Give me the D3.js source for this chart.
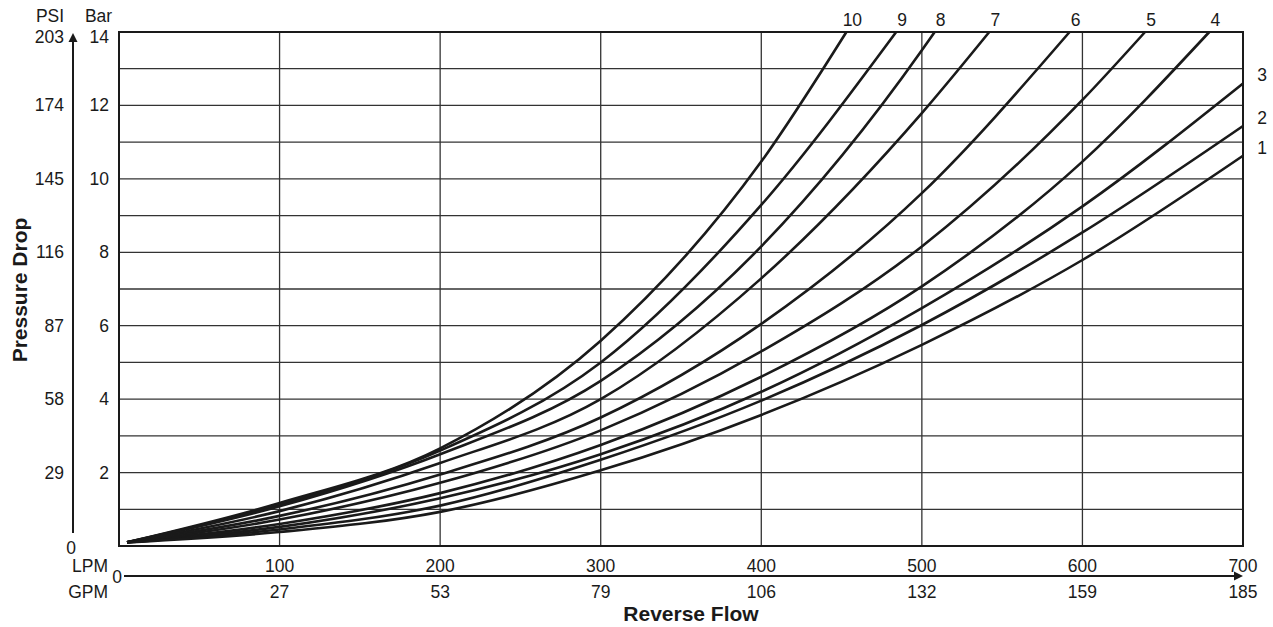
<!DOCTYPE html>
<html><head><meta charset="utf-8">
<script src="https://cdn.jsdelivr.net/npm/d3@7"></script>
<style>
html,body{margin:0;padding:0;background:#fff;}
svg{display:block;font-family:"Liberation Sans",Arial,Helvetica,sans-serif;}
</style></head>
<body>
<svg id="chart" width="1273" height="627"></svg>
<script>
// ---- data ----
const lpmTicks = [100, 200, 300, 400, 500, 600, 700];
const gpmTicks = ["27", "53", "79", "106", "132", "159", "185"];
const barTicks = [2, 4, 6, 8, 10, 12, 14];
const psiTicks = ["29", "58", "87", "116", "145", "174", "203"];
const curveNames = ["10", "9", "8", "7", "6", "5", "4", "3", "2", "1"];
const curve10 = [[5,0.1],[100,1.17],[200,2.66],[300,5.59],[400,10.47],[453,14]];
const curve9  = [[5,0.1],[100,1.12],[200,2.6],[300,5.0],[400,9.29],[484,14]];
const curve8  = [[5,0.1],[100,1.08],[200,2.5],[300,4.5],[400,8.16],[500,13.5],[508,14]];
const curve7  = [[5,0.1],[100,0.95],[200,2.26],[300,4.0],[400,7.29],[500,11.79],[542,14]];
const curve6  = [[5,0.1],[100,0.82],[200,1.95],[300,3.5],[400,6.05],[500,9.61],[592,14]];
const curve5  = [[5,0.1],[100,0.72],[200,1.72],[300,3.15],[400,5.3],[500,8.16],[600,12.15],[639,14]];
const curve4  = [[5,0.1],[100,0.6],[200,1.44],[300,2.75],[400,4.61],[500,7.07],[600,10.47],[679,14]];
const curve3  = [[5,0.1],[100,0.52],[200,1.3],[300,2.5],[400,4.2],[500,6.48],[600,9.25],[700,12.6]];
const curve2  = [[5,0.1],[100,0.45],[200,1.1],[300,2.35],[400,3.96],[500,6.02],[600,8.54],[700,11.44]];
const curve1  = [[5,0.1],[100,0.38],[200,0.93],[300,2.06],[400,3.57],[500,5.48],[600,7.79],[700,10.63]];
const curves = [curve10, curve9, curve8, curve7, curve6, curve5, curve4, curve3, curve2, curve1];

// ---- layout ----
const L = 119, R = 1243, T = 32, B = 546;
const x = d3.scaleLinear().domain([0, 700]).range([L, R]);
const y = d3.scaleLinear().domain([0, 14]).range([B, T]);
const svg = d3.select("#chart");
const ink = "#1a1a1a";
const FS = 17.5;

// grid
const g = svg.append("g");
g.selectAll("line.h").data(d3.range(1, 14)).join("line")
  .attr("x1", L).attr("x2", R).attr("y1", d => y(d)).attr("y2", d => y(d))
  .attr("stroke", "#333").attr("stroke-width", 1.3);
g.selectAll("line.v").data(lpmTicks.slice(0, -1)).join("line")
  .attr("x1", d => x(d)).attr("x2", d => x(d)).attr("y1", T).attr("y2", B)
  .attr("stroke", "#333").attr("stroke-width", 1.3);
g.append("rect").attr("x", L).attr("y", T).attr("width", R - L).attr("height", B - T)
  .attr("fill", "none").attr("stroke", ink).attr("stroke-width", 2);

// curves
const line = d3.line().x(d => x(d[0])).y(d => y(d[1])).curve(d3.curveMonotoneX);
svg.append("g").selectAll("path").data(curves).join("path")
  .attr("d", line).attr("fill", "none").attr("stroke", ink)
  .attr("stroke-width", 2.6).attr("stroke-linejoin", "round");

// curve labels
const lab = svg.append("g").attr("font-size", FS).attr("fill", ink);
curves.forEach((c, i) => {
  const end = c[c.length - 1];
  if (end[1] >= 14) {
    lab.append("text").attr("x", x(end[0]) + 6).attr("y", T - 6)
      .attr("text-anchor", "middle").text(curveNames[i]);
  } else {
    lab.append("text").attr("x", R + 19).attr("y", y(end[1]) - 2)
      .attr("text-anchor", "middle").text(curveNames[i]);
  }
});

// left axis
const la = svg.append("g").attr("font-size", FS).attr("fill", ink);
la.append("text").attr("x", 50).attr("y", 22).attr("text-anchor", "middle").text("PSI");
la.append("text").attr("x", 98.5).attr("y", 22).attr("text-anchor", "middle").text("Bar");
la.selectAll("text.bar").data(barTicks).join("text")
  .attr("x", 109).attr("y", d => d === 14 ? y(d) + 11 : y(d) + 6).attr("text-anchor", "end").text(d => d);
la.selectAll("text.psi").data(psiTicks).join("text")
  .attr("x", 64).attr("y", (d, i) => barTicks[i] === 14 ? y(barTicks[i]) + 11 : y(barTicks[i]) + 6)
  .attr("text-anchor", "end").text(d => d);
la.append("text").attr("x", 71).attr("y", y(0) + 8).attr("text-anchor", "middle").text("0");
svg.append("line").attr("x1", 73).attr("x2", 73).attr("y1", 533).attr("y2", 40)
  .attr("stroke", ink).attr("stroke-width", 2);
svg.append("path").attr("d", "M73,33 L68.5,42 L77.5,42 Z").attr("fill", ink);
svg.append("text").attr("transform", "translate(27,290) rotate(-90)")
  .attr("text-anchor", "middle").attr("font-size", 21).attr("font-weight", "bold")
  .attr("fill", ink).text("Pressure Drop");

// bottom axis
const ba = svg.append("g").attr("font-size", FS).attr("fill", ink);
const axY = 576;
svg.append("line").attr("x1", 124).attr("x2", x(700) - 8).attr("y1", axY).attr("y2", axY)
  .attr("stroke", ink).attr("stroke-width", 2);
svg.append("path").attr("d", `M${x(700)},${axY} L${x(700)-9},${axY-4.5} L${x(700)-9},${axY+4.5} Z`).attr("fill", ink);
ba.append("text").attr("x", 108).attr("y", 572).attr("text-anchor", "end").text("LPM");
ba.append("text").attr("x", 108).attr("y", 598).attr("text-anchor", "end").text("GPM");
ba.append("text").attr("x", 117).attr("y", 583).attr("text-anchor", "middle").text("0");
ba.selectAll("text.lpm").data(lpmTicks).join("text")
  .attr("x", d => x(d)).attr("y", 572).attr("text-anchor", "middle").text(d => d);
ba.selectAll("text.gpm").data(gpmTicks).join("text")
  .attr("x", (d, i) => x(lpmTicks[i])).attr("y", 598).attr("text-anchor", "middle").text(d => d);
svg.append("text").attr("x", 691).attr("y", 621).attr("text-anchor", "middle")
  .attr("font-size", 21).attr("font-weight", "bold").attr("fill", ink).text("Reverse Flow");
</script>
</body></html>
